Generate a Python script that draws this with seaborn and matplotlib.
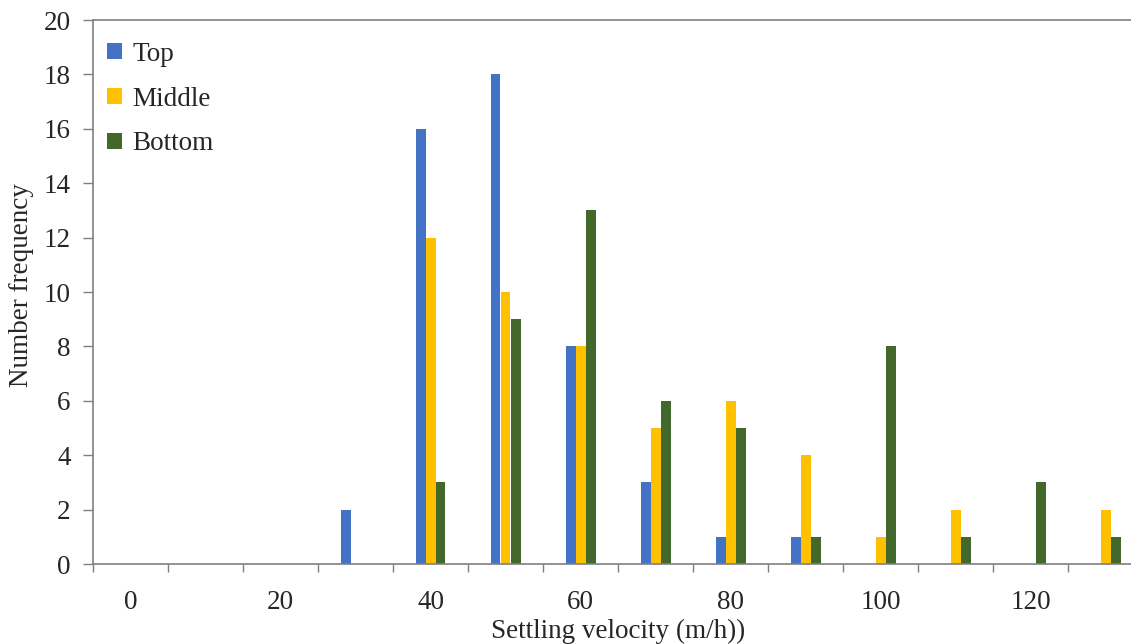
import matplotlib
matplotlib.use("Agg")
import matplotlib.pyplot as plt
import seaborn as sns
import pandas as pd
from matplotlib.ticker import FixedLocator

categories = ["0", "10", "20", "30", "40", "50", "60", "70", "80", "90", "100", "110", "120", "130"]
top = [0, 0, 0, 2, 16, 18, 8, 3, 1, 1, 0, 0, 0, 0]
middle = [0, 0, 0, 0, 12, 10, 8, 5, 6, 4, 1, 2, 0, 2]
bottom = [0, 0, 0, 0, 3, 9, 13, 6, 5, 1, 8, 1, 3, 1]
series_names = ["Top", "Middle", "Bottom"]
colors = ["#4472C4", "#FFC000", "#43682B"]
y_ticks = [0, 2, 4, 6, 8, 10, 12, 14, 16, 18, 20]
x_label_cats = ["0", "20", "40", "60", "80", "100", "120"]

rows = []
for name, vals in zip(series_names, [top, middle, bottom]):
    for c, v in zip(categories, vals):
        rows.append({"velocity": c, "count": v, "position": name})
df = pd.DataFrame(rows)

sns.set_style("white")
plt.rcParams["font.family"] = ["Liberation Serif", "DejaVu Serif"]
FS = 19.5

fig = plt.figure(figsize=(11.31, 6.44), dpi=100)
ax = fig.add_axes([93 / 1131, 1 - 564 / 644, 1050 / 1131, (564 - 20) / 644])

sns.barplot(data=df, x="velocity", y="count", hue="position", order=categories,
            hue_order=series_names, palette=colors, width=0.4, linewidth=0,
            saturation=1, ax=ax, legend=True)

ax.set_xlim(-0.5, len(categories) - 0.5)
ax.set_ylim(0, 20)
ax.set_yticks(y_ticks)
ax.set_yticklabels([str(t) for t in y_ticks], fontsize=FS)

label_pos = [categories.index(c) for c in x_label_cats]
ax.set_xticks(label_pos)
ax.set_xticklabels(x_label_cats, fontsize=FS)
ax.tick_params(axis="x", which="major", length=0, pad=19)
ax.xaxis.set_minor_locator(FixedLocator([i - 0.5 for i in range(len(categories) + 1)]))
ax.tick_params(axis="x", which="minor", length=6, width=1, color="#7f7f7f", direction="out", bottom=True)
ax.tick_params(axis="y", which="major", length=7, width=1, color="#7f7f7f", direction="out", left=True, pad=9)

for s in ["left", "bottom", "top"]:
    ax.spines[s].set_visible(True)
    ax.spines[s].set_color("#7f7f7f")
    ax.spines[s].set_linewidth(1.2)
ax.spines["right"].set_visible(False)

ax.set_xlabel("Settling velocity (m/h))", fontsize=FS, va="top")
ax.xaxis.set_label_coords(0.5, (564 - 619) / 544)
ax.set_ylabel("Number frequency", fontsize=FS, va="center")
ax.yaxis.set_label_coords((22 - 93) / 1050, (564 - 285) / 544)

leg = ax.legend(loc="upper left", frameon=False, fontsize=FS, handlelength=0.55,
                handleheight=0.55, handletextpad=0.4, labelspacing=0.73,
                bbox_to_anchor=(-0.0076, 0.9997), borderaxespad=0.4)

fig.savefig("out.png", dpi=100)
